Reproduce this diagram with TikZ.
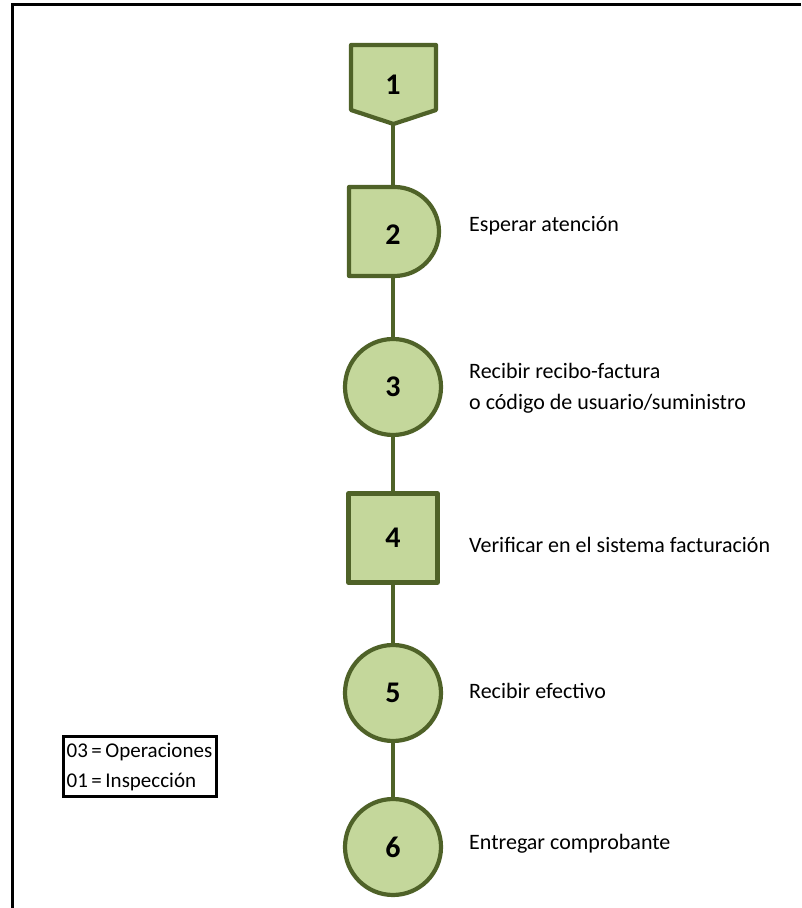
\documentclass[tikz,border=0pt]{standalone}
\usepackage{fontspec}
\setmainfont{Carlito}
\definecolor{shapefill}{RGB}{196,215,155}
\definecolor{shapeline}{RGB}{79,98,40}
\pgfdeclarelayer{connect}
\pgfdeclarelayer{back}
\pgfsetlayers{connect,back,main}
\begin{document}
\begin{tikzpicture}[x=1pt,y=1pt,
  shapestyle/.style={draw=shapeline,fill=shapefill,line width=4.2pt,line join=round},
  numlabel/.style={font=\fontsize{30}{34}\selectfont\bfseries,inner sep=0pt},
  circstep/.style={shapestyle,circle,minimum size=96pt,inner sep=0pt,font=\fontsize{30}{34}\selectfont\bfseries},
  sqstep/.style={shapestyle,rectangle,minimum size=89pt,inner sep=0pt,font=\fontsize{30}{34}\selectfont\bfseries},
  desc/.style={anchor=base west,inner sep=0pt,font=\fontsize{22}{26}\selectfont},
  legtext/.style={anchor=base west,inner sep=0pt,font=\fontsize{21}{25}\selectfont},
  connector/.style={draw=shapeline,line width=4pt}]
\useasboundingbox (0,0) rectangle (801,908);
% page border (top and left visible)
\draw[line width=3pt] (801,903) -- (12,903) -- (12,0);
% step nodes
\node[numlabel] (n1) at (393,823) {1};
\node[numlabel] (n2) at (393,673) {2};
\node[circstep] (n3) at (393,521) {3};
\node[sqstep] (n4) at (393,370) {4};
\node[circstep] (n5) at (393,215) {5};
\node[circstep] (n6) at (393,61) {6};
% special shapes
\begin{pgfonlayer}{back}
\draw[shapestyle] (351,863) -- (436,863) -- (436,798) -- (393.5,784) -- (351,798) -- cycle;
\draw[shapestyle] (349,721) -- (394.5,721) arc[start angle=90,end angle=-90,radius=44.5] -- (349,632) -- cycle;
\end{pgfonlayer}
% connectors
\begin{pgfonlayer}{connect}
\draw[connector] (n1.center) -- (n2.center);
\draw[connector] (n2.center) -- (n3.center);
\draw[connector] (n3.center) -- (n4.center);
\draw[connector] (n4.center) -- (n5.center);
\draw[connector] (n5.center) -- (n6.center);
\end{pgfonlayer}
% descriptions
\node[desc] (d2) at (469,676) {Esperar atención};
\node[desc] (d3a) at (469,529) {Recibir recibo-factura};
\node[desc] (d3b) at (469,498) {o código de usuario/suministro};
\node[desc] (d4) at (469,355) {Verificar en el sistema facturación};
\node[desc] (d5) at (469,209) {Recibir efectivo};
\node[desc] (d6) at (469,58) {Entregar comprobante};
% legend
\draw[line width=3pt] (63,171) rectangle (216,111);
\node[legtext] (l1) at (66.5,150) {03\hspace{3.5pt}=\hspace{3.5pt}Operaciones};
\node[legtext] (l2) at (66.5,120) {01\hspace{3.5pt}=\hspace{3.5pt}Inspección};
\end{tikzpicture}
\end{document}
